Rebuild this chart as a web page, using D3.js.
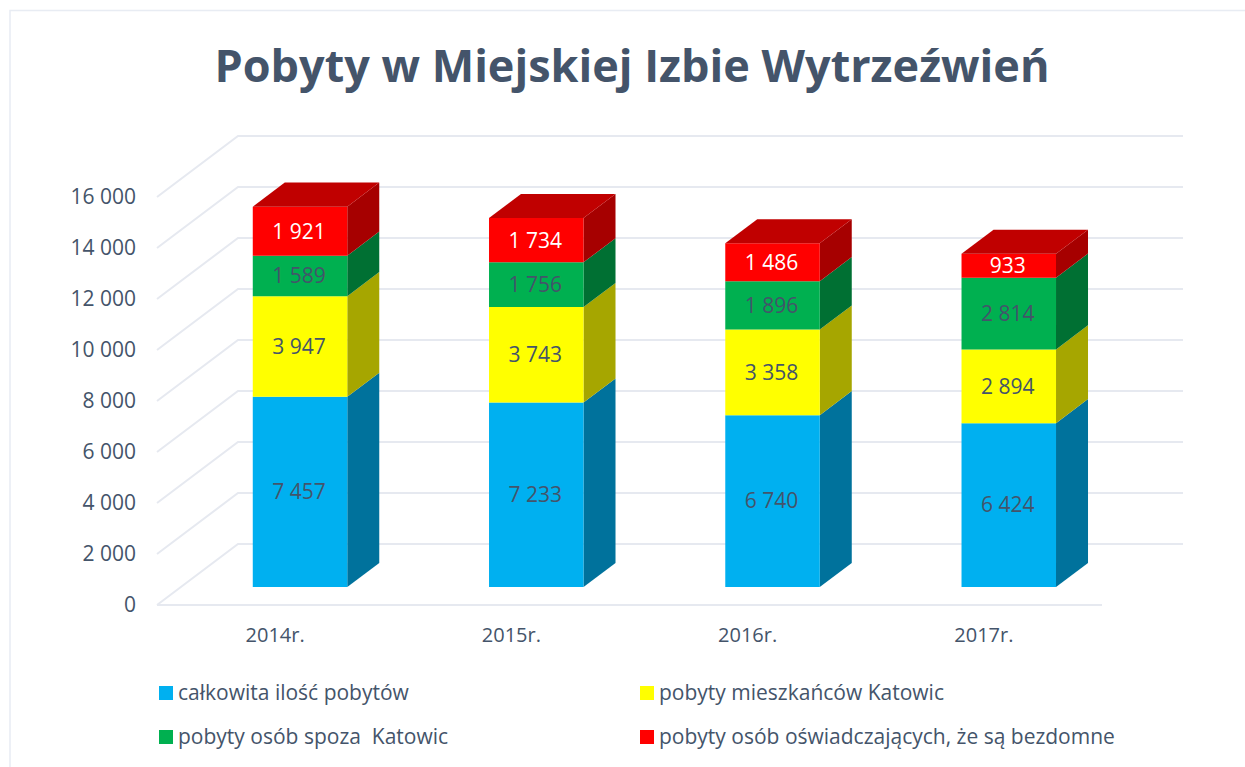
<!DOCTYPE html>
<html lang="pl">
<head>
<meta charset="utf-8">
<title>Pobyty w Miejskiej Izbie Wytrzeźwień</title>
<script src="https://d3js.org/d3.v7.min.js"></script>
<style>
    html, body { margin: 0; padding: 0; background: #fff; overflow: hidden; }
    svg { display: block; }
    text { font-family: "Open Sans", Lato, sans-serif; fill: #44546a; white-space: pre; }
</style>
</head>
<body>
<div id="chart"></div>
<script>
// Data
const years = ["2014r.", "2015r.", "2016r.", "2017r."];
const seriesNames = [
    "całkowita ilość pobytów",
    "pobyty mieszkańców Katowic",
    "pobyty osób spoza  Katowic",
    "pobyty osób oświadczających, że są bezdomne"
];
const totalStays = [7457, 7233, 6740, 6424];
const katowiceStays = [3947, 3743, 3358, 2894];
const outsideStays = [1589, 1756, 1896, 2814];
const homelessStays = [1921, 1734, 1486, 933];
const yTicks = [0, 2000, 4000, 6000, 8000, 10000, 12000, 14000, 16000];

const frontColors = ["#00b0f0", "#ffff00", "#00b050", "#ff0000"];
const sideColors = ["#00729c", "#a6a600", "#007033", "#a60000"];
const topColor = "#c00000";
const labelColors = ["#44546a", "#44546a", "#44546a", "#ffffff"];
const gridColor = "#e6e9f0";

const width = 1245;
const height = 767;

const svg = d3.select("#chart")
    .append("svg")
    .attr("width", width)
    .attr("height", height);

// Frame of the pasted chart, only top and left are in the crop
svg.append("path")
    .attr("d", "M10,767V10.5H1245")
    .attr("fill", "none")
    .attr("stroke", "#e8ecf3")
    .attr("stroke-width", 1.5);

svg.append("text")
    .attr("x", 632)
    .attr("y", 82)
    .attr("text-anchor", "middle")
    .style("font-size", "45px")
    .style("font-weight", "bold")
    .text("Pobyty w Miejskiej Izbie Wytrzeźwień");

// Front plane scales, the 3D depth is added in project()
const x = d3.scaleBand()
    .domain(years)
    .range([157, 1102])
    .paddingInner(0.6)
    .paddingOuter(0.3);

const y = d3.scaleLinear()
    .domain([0, 16000])
    .range([605, 197]);

const depthX = 81;
const depthY = 61;
const barFront = 0.295;
const barBack = 0.69;
const barShift = 1; // bars sit a pixel right of the band in the reference

function project(px, value, depth) {
    return [px + depth * depthX, y(value) - depth * depthY];
}

const pl = d3.formatLocale({ decimal: ",", thousands: " ", grouping: [3], currency: ["", ""] });
const fmt = pl.format(",");

// Walls: each gridline runs back along the floor side and then across
const gridLine = d3.line();
svg.append("g")
    .selectAll("path")
    .data(yTicks)
    .enter()
    .append("path")
    .attr("d", d => gridLine([
        project(157, d, 0),
        project(157, d, 1),
        project(1102, d, 1)
    ]))
    .attr("fill", "none")
    .attr("stroke", gridColor)
    .attr("stroke-width", 2);

// Front edge of the floor
svg.append("line")
    .attr("x1", x.range()[0])
    .attr("x2", x.range()[1])
    .attr("y1", y(0))
    .attr("y2", y(0))
    .attr("stroke", gridColor)
    .attr("stroke-width", 2);

// Axes
const yAxis = svg.append("g")
    .attr("transform", "translate(139,0)")
    .call(d3.axisLeft(y).tickValues(yTicks).tickSize(0).tickFormat(fmt));
yAxis.select(".domain").remove();
yAxis.selectAll("text").style("font-size", "21px").style("font-family", "'Open Sans', sans-serif").style("fill", "#44546a");

const xAxis = svg.append("g")
    .attr("transform", "translate(0,625)")
    .call(d3.axisBottom(x).tickSize(0));
xAxis.select(".domain").remove();
xAxis.selectAll("text").style("font-size", "20px").style("font-family", "'Open Sans', sans-serif").style("fill", "#44546a");

// Stacked bars
const stackRows = years.map((year, i) => ({
    year: year,
    s0: totalStays[i],
    s1: katowiceStays[i],
    s2: outsideStays[i],
    s3: homelessStays[i]
}));
const stacked = d3.stack().keys(["s0", "s1", "s2", "s3"])(stackRows);

function polygon(points) {
    return points.map(p => p.join(",")).join(" ");
}

const bars = svg.append("g");

stacked.forEach(function(layer, s) {
    layer.forEach(function(d) {
        const left = x(d.data.year) + barShift;
        const right = left + x.bandwidth();

        // side
        bars.append("polygon")
            .attr("points", polygon([
                project(right, d[0], barFront),
                project(right, d[0], barBack),
                project(right, d[1], barBack),
                project(right, d[1], barFront)
            ]))
            .attr("fill", sideColors[s]);

        // front
        bars.append("polygon")
            .attr("points", polygon([
                project(left, d[0], barFront),
                project(right, d[0], barFront),
                project(right, d[1], barFront),
                project(left, d[1], barFront)
            ]))
            .attr("fill", frontColors[s]);

        // top only on the last layer
        if (s === stacked.length - 1) {
            bars.append("polygon")
                .attr("points", polygon([
                    project(left, d[1], barFront),
                    project(right, d[1], barFront),
                    project(right, d[1], barBack),
                    project(left, d[1], barBack)
                ]))
                .attr("fill", topColor);
        }

        const labelPos = project(left + x.bandwidth() / 2, (d[0] + d[1]) / 2, barFront);
        bars.append("text")
            .attr("x", labelPos[0] - 1)
            .attr("y", labelPos[1])
            .attr("dy", "0.35em")
            .attr("text-anchor", "middle")
            .style("font-size", "21px")
            .style("fill", labelColors[s])
            .text(fmt(d[1] - d[0]));
    });
});

// Legend, two rows in two columns
const legendX = d3.scaleOrdinal().domain([0, 1]).range([159, 640]);
const legendY = d3.scaleOrdinal().domain([0, 1]).range([693, 737]);

const legend = svg.append("g")
    .selectAll("g")
    .data(seriesNames)
    .enter()
    .append("g")
    .attr("transform", (d, i) => "translate(" + legendX(i % 2) + "," + legendY(Math.floor(i / 2)) + ")");

legend.append("rect")
    .attr("x", 0)
    .attr("y", -7)
    .attr("width", 14)
    .attr("height", 14)
    .attr("fill", (d, i) => frontColors[i]);

legend.append("text")
    .attr("x", 19)
    .attr("dy", "0.35em")
    .style("font-size", "21px")
    .text(d => d);
</script>
</body>
</html>
